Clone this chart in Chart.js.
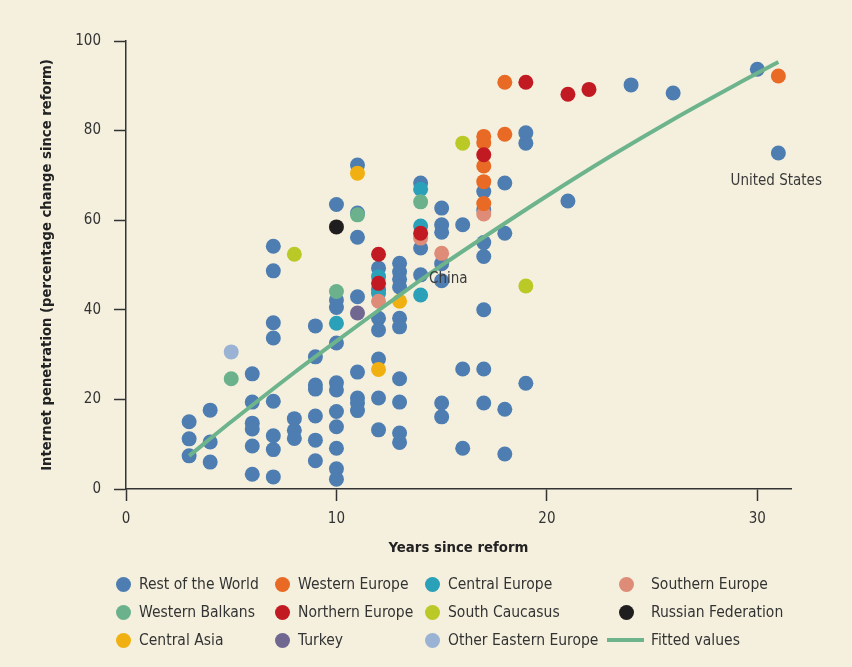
<!DOCTYPE html>
<html>
<head>
<meta charset="utf-8">
<script src="https://cdn.jsdelivr.net/npm/chart.js@4.4.1/dist/chart.umd.min.js"></script>
<style>
  body { margin: 0; background: #F5F0DE; }
  #wrap { position: relative; width: 852px; height: 667px; background: #F5F0DE; }
  #box { position: absolute; left: 0; top: 0; width: 852px; height: 560px; }
  #legend { position: absolute; left: 0; top: 0; width: 852px; height: 667px; pointer-events: none;
            font-family: 'Liberation Sans Narrow', 'DejaVu Sans Condensed', sans-serif; font-size: 15.5px; color: #333; }
  .dot { position: absolute; width: 15px; height: 15px; border-radius: 50%; }
  .bar { position: absolute; height: 4px; }
  .txt { position: absolute; line-height: 20px; white-space: nowrap; }
</style>
</head>
<body>
<div id="wrap">
  <div id="box"><canvas id="myChart"></canvas></div>
  <div id="legend"></div>
</div>
<script>
const FONT = "'Liberation Sans Narrow', 'DejaVu Sans Condensed', sans-serif";

// Rest of the World
const restYears = [3, 3, 3, 4, 4, 4, 6, 6, 6, 6, 6, 6,
  7, 7, 7, 7, 7, 7, 7, 7, 8, 8, 8,
  9, 9, 9, 9, 9, 9, 9,
  10, 10, 10, 10, 10, 10, 10, 10, 10, 10, 10,
  11, 11, 11, 11, 11, 11, 11, 11,
  12, 12, 12, 12, 12, 12, 12,
  13, 13, 13, 13, 13, 13, 13, 13, 13, 13,
  14, 14, 14, 15, 15, 15, 15, 15, 15, 15,
  16, 16, 16, 17, 17, 17, 17, 17, 17, 17,
  18, 18, 18, 18, 19, 19, 19, 21, 24, 26, 30, 31];
const restValues = [15.0, 11.2, 7.4, 17.6, 10.5, 6.0, 25.7, 19.4, 14.7, 13.4, 9.6, 3.3,
  54.2, 48.7, 37.1, 33.7, 19.6, 11.9, 8.8, 2.7, 15.7, 13.1, 11.3,
  36.4, 29.5, 23.2, 22.3, 16.3, 10.9, 6.3,
  63.5, 42.2, 40.5, 32.6, 23.7, 22.1, 17.3, 13.9, 9.1, 4.5, 2.2,
  72.3, 61.6, 56.2, 42.9, 26.1, 20.3, 19.2, 17.5,
  49.3, 44.5, 38.1, 35.5, 29.0, 20.3, 13.2,
  50.4, 48.5, 46.8, 45.1, 38.1, 36.2, 24.6, 19.4, 12.5, 10.4,
  68.3, 53.8, 47.8, 62.7, 59.0, 57.3, 50.3, 46.5, 19.2, 16.1,
  59.0, 26.8, 9.1, 66.4, 62.3, 55.0, 51.9, 40.0, 26.8, 19.2,
  68.3, 57.1, 17.8, 7.8, 79.5, 77.2, 23.6, 64.3, 90.2, 88.4, 93.7, 75.0];

const westEuYears = [17, 17, 17, 17, 17, 18, 18, 31];
const westEuValues = [78.7, 77.3, 72.1, 68.6, 63.7, 90.8, 79.2, 92.2];

const centEuYears = [10, 12, 12, 14, 14, 14];
const centEuValues = [37.0, 47.4, 43.7, 66.9, 58.7, 43.3];

const southEuYears = [12, 14, 15, 17];
const southEuValues = [41.9, 56.0, 52.6, 61.4];

const balkansYears = [5, 10, 11, 14];
const balkansValues = [24.6, 44.1, 61.2, 64.1];

const northEuYears = [12, 12, 14, 17, 19, 21, 22];
const northEuValues = [52.4, 45.9, 57.1, 74.6, 90.8, 88.1, 89.2];

const caucasusYears = [8, 16, 19];
const caucasusValues = [52.4, 77.2, 45.3];

const russiaYears = [10];
const russiaValues = [58.5];

const centAsiaYears = [11, 12, 13];
const centAsiaValues = [70.5, 26.7, 41.9];

const turkeyYears = [11];
const turkeyValues = [39.3];

const otherEastYears = [5];
const otherEastValues = [30.6];

const fittedYears = [3, 5, 8, 10, 13, 15, 17, 20, 23, 26, 29, 31];
const fittedValues = [7.4, 15.0, 26.0, 33.0, 43.3, 49.9, 56.2, 65.4, 74.2, 82.5, 90.3, 95.3];

const xTicks = [0, 10, 20, 30];
const yTicks = [0, 20, 40, 60, 80, 100];

// point labels
const noteTexts = ['China', 'United States'];
const noteYears = [14.4, 30.9];
const noteValues = [46.9, 68.8];
const noteAlign = ['left', 'center'];

function pts(xs, ys) {
    return xs.map((x, i) => ({ x: x, y: ys[i] }));
}

// legend order (row by row) with the draw order (lower = on top)
const groups = [
    { label: 'Rest of the World', xs: restYears, ys: restValues, color: '#4E7DB1', order: 20 },
    { label: 'Western Europe', xs: westEuYears, ys: westEuValues, color: '#E86A24', order: 8 },
    { label: 'Central Europe', xs: centEuYears, ys: centEuValues, color: '#2AA0B9', order: 10 },
    { label: 'Southern Europe', xs: southEuYears, ys: southEuValues, color: '#DE8B77', order: 9 },
    { label: 'Western Balkans', xs: balkansYears, ys: balkansValues, color: '#6BB28C', order: 6 },
    { label: 'Northern Europe', xs: northEuYears, ys: northEuValues, color: '#C21A22', order: 2 },
    { label: 'South Caucasus', xs: caucasusYears, ys: caucasusValues, color: '#BAC926', order: 5 },
    { label: 'Russian Federation', xs: russiaYears, ys: russiaValues, color: '#1F1D1E', order: 4 },
    { label: 'Central Asia', xs: centAsiaYears, ys: centAsiaValues, color: '#F0B011', order: 3 },
    { label: 'Turkey', xs: turkeyYears, ys: turkeyValues, color: '#706891', order: 7 },
    { label: 'Other Eastern Europe', xs: otherEastYears, ys: otherEastValues, color: '#9AB2D3', order: 11 },
    { label: 'Fitted values', xs: fittedYears, ys: fittedValues, color: '#6DB48D', order: 0, line: true }
];

const datasets = groups.map(g => g.line ? {
    type: 'line',
    label: g.label,
    data: pts(g.xs, g.ys),
    borderColor: g.color,
    borderWidth: 4,
    pointRadius: 0,
    tension: 0.3,
    fill: false,
    order: g.order
} : {
    type: 'scatter',
    label: g.label,
    data: pts(g.xs, g.ys),
    backgroundColor: g.color,
    borderWidth: 0,
    pointRadius: 7.5,
    pointHoverRadius: 7.5,
    order: g.order
});

// draws the country names next to their points
const notesPlugin = {
    id: 'notes',
    afterDatasetsDraw(chart) {
        const ctx = chart.ctx;
        const xs = chart.scales.x, ys = chart.scales.y;
        ctx.save();
        ctx.font = '15px ' + FONT;
        ctx.fillStyle = '#3a3a3a';
        ctx.textBaseline = 'middle';
        noteTexts.forEach((t, i) => {
            ctx.textAlign = noteAlign[i];
            ctx.fillText(t, xs.getPixelForValue(noteYears[i]), ys.getPixelForValue(noteValues[i]));
        });
        ctx.restore();
    }
};

const axisColor = '#333333';

new Chart(document.getElementById('myChart').getContext('2d'), {
    data: { datasets: datasets },
    plugins: [notesPlugin],
    options: {
        responsive: true,
        maintainAspectRatio: false,
        animation: false,
        layout: { padding: { top: 41, right: 61, left: 0, bottom: 0 } },
        plugins: { legend: { display: false }, tooltip: { enabled: false } },
        scales: {
            x: {
                type: 'linear',
                min: 0,
                max: 31.6,
                afterFit: s => { s.height = 71; },
                afterBuildTicks: s => { s.ticks = xTicks.map(v => ({ value: v })); },
                ticks: { color: axisColor, padding: 9, font: { family: FONT, size: 15 } },
                grid: { drawOnChartArea: false, tickLength: 12, tickColor: axisColor, tickWidth: 1.5 },
                border: { color: axisColor, width: 1.5 },
                title: { display: true, text: 'Years since reform', color: '#222',
                         font: { family: FONT, size: 14.8, weight: 'bold' }, padding: { top: 0, bottom: 3 } }
            },
            y: {
                type: 'linear',
                min: 0,
                max: 100,
                afterFit: s => { s.width = 126; },
                afterBuildTicks: s => { s.ticks = yTicks.map(v => ({ value: v })); },
                ticks: { color: axisColor, padding: 13, font: { family: FONT, size: 15 } },
                grid: { drawOnChartArea: false, tickLength: 12, tickColor: axisColor, tickWidth: 1.5 },
                border: { color: axisColor, width: 1.5 },
                title: { display: true, text: 'Internet penetration (percentage change since reform)', color: '#222',
                         font: { family: FONT, size: 14.7, weight: 'bold' }, padding: { top: 38, bottom: 0 } }
            }
        }
    }
});

// legend laid out in four columns like the original
const legendCols = [123, 282, 432, 626];
const legendTextCols = [139, 298, 448, 651];
const legendRows = [584, 612, 640];
const legendBox = document.getElementById('legend');
groups.forEach((g, i) => {
    const r = Math.floor(i / 4), c = i % 4;
    const cy = legendRows[r];
    if (g.line) {
        const b = document.createElement('div');
        b.className = 'bar';
        b.style.left = '607px';
        b.style.width = '37px';
        b.style.top = (cy - 2) + 'px';
        b.style.background = g.color;
        legendBox.appendChild(b);
    } else {
        const d = document.createElement('div');
        d.className = 'dot';
        d.style.left = (legendCols[c] - 7.5) + 'px';
        d.style.top = (cy - 7.5) + 'px';
        d.style.background = g.color;
        legendBox.appendChild(d);
    }
    const t = document.createElement('div');
    t.className = 'txt';
    t.style.left = legendTextCols[c] + 'px';
    t.style.top = (cy - 10) + 'px';
    t.textContent = g.label;
    legendBox.appendChild(t);
});
</script>
</body>
</html>
